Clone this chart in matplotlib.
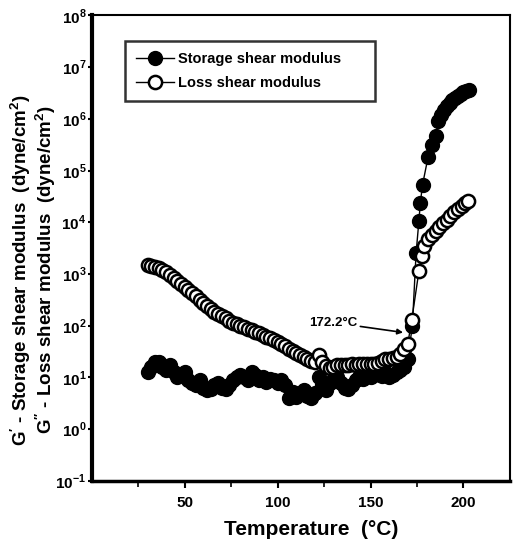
import matplotlib
matplotlib.use("Agg")
import matplotlib.pyplot as plt
import numpy as np
from matplotlib.ticker import LogLocator, FixedLocator, NullFormatter

plt.rcParams['font.family'] = ['Liberation Sans', 'DejaVu Sans']
plt.rcParams['font.weight'] = 'bold'
plt.rcParams['mathtext.fontset'] = 'custom'
plt.rcParams['mathtext.rm'] = 'Liberation Sans:bold'
plt.rcParams['mathtext.bf'] = 'Liberation Sans:bold'

# temperatures (deg C) of the dense scan, then the sparse points above 170
temp = list(range(30, 170, 2))
temp_hi_loss = [170, 172.2, 176, 177.5, 179, 181, 183, 185, 187, 189, 191, 193, 195, 197, 199, 201, 202.5]
temp_hi_stor = [170, 172.5, 174.5, 176, 176.8, 178, 181, 183, 185, 186.5, 188, 189.5, 191, 192.5,
                194, 195.5, 197, 198.5, 200, 201.5, 203]

# log10 of G'' (loss shear modulus)
loss_log = [3.17, 3.16, 3.14, 3.12, 3.08, 3.03, 2.98, 2.93, 2.87, 2.81,
            2.75, 2.69, 2.63, 2.57, 2.50, 2.44, 2.38, 2.32, 2.27, 2.22,
            2.18, 2.14, 2.10, 2.06, 2.03, 2.00, 1.97, 1.94, 1.91, 1.88,
            1.85, 1.82, 1.79, 1.76, 1.72, 1.68, 1.64, 1.60, 1.56, 1.52,
            1.48, 1.44, 1.40, 1.36, 1.32, 1.30, 1.44, 1.30, 1.22, 1.18,
            1.20, 1.24, 1.25, 1.24, 1.25, 1.26, 1.25, 1.26, 1.27, 1.26,
            1.27, 1.26, 1.28, 1.32, 1.36, 1.36, 1.38, 1.40, 1.46, 1.55]
loss_log_hi = [1.64, 2.12, 3.05, 3.35, 3.55, 3.68, 3.76, 3.84, 3.91, 3.98,
               4.05, 4.12, 4.19, 4.26, 4.32, 4.37, 4.42]

# log10 of G' (storage shear modulus)
stor_log = [1.10, 1.20, 1.30, 1.30, 1.20, 1.15, 1.25, 1.10, 1.00, 1.05,
            1.10, 0.95, 0.90, 0.85, 0.95, 0.80, 0.75, 0.78, 0.85, 0.90,
            0.80, 0.78, 0.85, 0.95, 1.00, 1.05, 1.00, 0.95, 1.10, 1.05,
            0.95, 1.00, 0.92, 0.98, 0.95, 0.90, 0.95, 0.85, 0.60, 0.72,
            0.62, 0.70, 0.75, 0.65, 0.60, 0.70, 1.00, 0.85, 0.75, 0.90,
            0.95, 1.00, 0.90, 0.80, 0.78, 0.85, 0.95, 1.00, 0.98, 1.05,
            1.00, 1.05, 1.10, 1.02, 1.10, 1.00, 1.05, 1.10, 1.15, 1.20]
stor_log_hi = [1.35, 2.00, 3.40, 4.02, 4.38, 4.73, 5.27, 5.50, 5.66, 5.95,
               6.08, 6.17, 6.24, 6.31, 6.37, 6.41, 6.45, 6.48, 6.51, 6.53, 6.55]

t_loss = np.array(temp + temp_hi_loss)
g_loss = 10 ** np.array(loss_log + loss_log_hi)
t_stor = np.array(temp + temp_hi_stor)
g_stor = 10 ** np.array(stor_log + stor_log_hi)

fig = plt.figure(figsize=(5.13, 5.49), dpi=100)
ax = fig.add_axes([0.179, 0.124, 0.815, 0.848])

ax.plot(t_stor, g_stor, '-o', color='black', lw=1, ms=10,
        mfc='black', mec='black', label='Storage shear modulus', zorder=3)
ax.plot(t_loss, g_loss, '-o', color='black', lw=1, ms=9.5,
        mfc='white', mec='black', mew=1.8, label='Loss shear modulus', zorder=4)

ax.set_yscale('log')
ax.set_ylim(1e-1, 1e8)
ax.set_xlim(0, 225)

ax.xaxis.set_major_locator(FixedLocator([50, 100, 150, 200]))
ax.xaxis.set_minor_locator(FixedLocator([25, 75, 125, 175]))
ax.yaxis.set_minor_locator(LogLocator(base=10, subs=np.arange(2, 10), numticks=20))
ax.yaxis.set_minor_formatter(NullFormatter())
ax.set_yticks([10.0 ** k for k in range(-1, 9)])
ax.set_yticklabels([r'$10^{%d}$' % k for k in range(-1, 9)])

ax.tick_params(axis='x', which='major', direction='out', length=5, width=1.5,
               labelsize=11, pad=6)
ax.tick_params(axis='x', which='minor', direction='out', length=4, width=1.2)
ax.tick_params(axis='y', which='major', direction='out', length=3, width=1.5,
               labelsize=11, pad=1)
ax.tick_params(axis='y', which='minor', direction='out', length=1.5, width=1)

ax.spines['left'].set_linewidth(3)
ax.spines['bottom'].set_linewidth(2.5)
ax.spines['top'].set_linewidth(1.5)
ax.spines['right'].set_linewidth(1.5)

ax.annotate('172.2°C', xy=(167.5, 10 ** 1.87), xytext=(143, 10 ** 2.06),
            fontsize=9.5, fontweight='bold', ha='right', va='center',
            arrowprops=dict(arrowstyle='-|>', color='black', lw=1.2,
                            mutation_scale=8, shrinkA=0, shrinkB=0))

leg = ax.legend(loc='upper left', bbox_to_anchor=(0.079, 0.826, 0.598, 0.118),
                mode='expand', fontsize=10.5, frameon=True, fancybox=False,
                edgecolor='black', handlelength=2.6, borderpad=0.75,
                labelspacing=0.65, handletextpad=0.3, borderaxespad=0)
leg.get_frame().set_linewidth(1.8)

ax.set_xlabel('Temperature  (°C)', fontsize=15, fontweight='bold')
ax.xaxis.set_label_coords(0.524, -0.085)
fig.text(0.04, 0.508, "G$'$ - Storage shear modulus  (dyne/cm$^2$)",
         rotation=90, ha='center', va='center', fontsize=13.5, fontweight='bold')
fig.text(0.088, 0.508, "G$''$ - Loss shear modulus  (dyne/cm$^2$)",
         rotation=90, ha='center', va='center', fontsize=13.5, fontweight='bold')

fig.savefig('out.png', dpi=100)
